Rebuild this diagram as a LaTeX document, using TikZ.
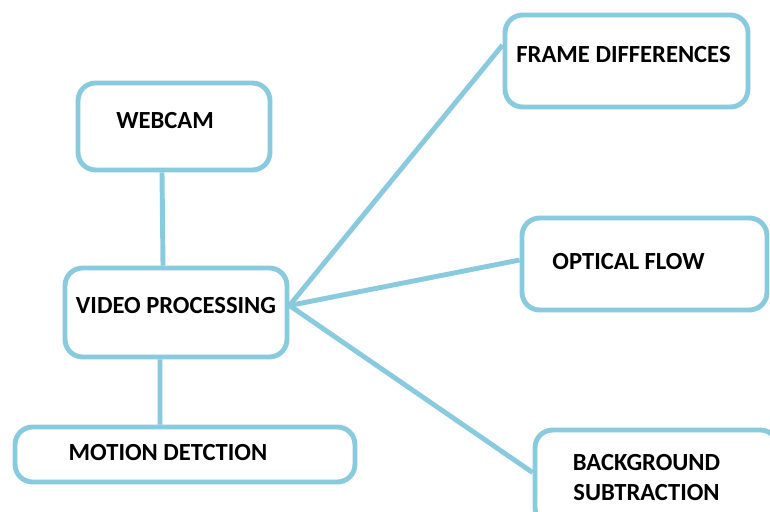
\documentclass[tikz,border=0pt]{standalone}
\usepackage{fontspec}
\setmainfont{Carlito}
\usepackage{xcolor}
\usepackage{tikz}
\usetikzlibrary{positioning}
\definecolor{linkblue}{RGB}{138,202,222}

\begin{document}
\begin{tikzpicture}[
  x=0.02cm,y=-0.02cm,
  box/.style ={rectangle,draw=linkblue,line width=2.8pt,fill=white,rounded corners=10pt,
               align=center,inner sep=0pt,text=black,
               font=\fontsize{14}{17.6}\selectfont\bfseries},
  link/.style={draw=linkblue,line width=2.8pt},
]
\useasboundingbox (0,0) rectangle (770,511);
\clip (0,0) rectangle (770,511);
\node[box,minimum width=3.84cm,minimum height=1.74cm,text depth=0.26cm] (webcam) at (174,126.5) {WEBCAM\hspace*{0.36cm}};
\node[box,minimum width=4.44cm,minimum height=1.78cm,text depth=0.30cm] (video)  at (176,312.5) {VIDEO PROCESSING};
\node[box,minimum width=6.80cm,minimum height=1.10cm,text depth=0.10cm] (motion) at (185,454.5) {MOTION DETCTION\hspace*{0.68cm}};
\node[box,minimum width=4.86cm,minimum height=1.84cm,text depth=0.28cm] (frame)  at (626.5,61)  {FRAME DIFFERENCES\hspace*{0.12cm}};
\node[box,minimum width=4.90cm,minimum height=1.84cm,text depth=0.12cm] (optic)  at (644.5,264) {OPTICAL FLOW\hspace*{0.64cm}};
\node[box,minimum width=4.86cm,minimum height=1.90cm] (bgsub) at (656.5,477.5) {BACKGROUND\hspace*{0.4cm}\\SUBTRACTION\hspace*{0.4cm}};
\draw[link]([xshift=-0.24cm]webcam.south)--([xshift=-0.26cm]video.north);
\draw[link]([xshift=-0.32cm]video.south)--([xshift=-0.50cm]motion.north);
\draw[link]([yshift=0.14cm]video.east)--([yshift=0.32cm]frame.west);
\draw[link]([yshift=0.14cm]video.east)--([yshift=0.08cm]optic.west);
\draw[link]([yshift=0.14cm]video.east)--([yshift=0.10cm]bgsub.west);
\end{tikzpicture}
\end{document}
